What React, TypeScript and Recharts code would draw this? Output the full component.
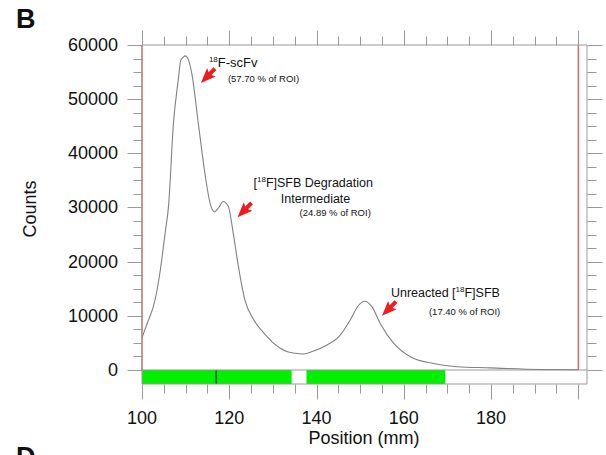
import React from 'react';
import {
  ComposedChart,
  Line,
  XAxis,
  YAxis,
  ReferenceLine,
  ReferenceArea,
  ReferenceDot,
} from 'recharts';

// radio-TLC scan, position in mm vs counts
const positions = [
  100, 101, 102, 102.6, 104.1, 105.3, 106.1, 107.2, 108.3, 108.9,
  109.4, 109.9, 110.4, 111.4, 112.9, 114.4, 115.6, 116.6, 117.6, 118.6,
  119.8, 120.9, 122.1, 123.6, 125.5, 127.4, 129, 130.2, 131.7, 133.2,
  135, 136.7, 139, 142.4, 145.5, 147.7, 149.7, 151, 152.7, 154.6,
  157.7, 161.5, 166.8, 172.2, 179.8, 191.3, 200,
];
const counts = [
  5900, 8200, 10300, 11700, 17900, 25300, 30400, 45500, 53500, 57200,
  57700, 58000, 57700, 54800, 45600, 36400, 30800, 29200, 30000, 31100,
  30200, 25300, 19100, 12900, 9400, 7300, 5900, 4900, 4000, 3400,
  3100, 2950, 3400, 4600, 6500, 9200, 12000, 12700, 11700, 8600,
  4900, 2450, 1200, 600, 400, 100, 50,
];

// regions of interest (green strip) and markers
const roiStarts = [100, 137.7];
const roiEnds = [134.3, 169.5];
const roiDivider = 117;
const originPos = 100;
const frontPos = 200;

const xTicks = [
  100, 105, 110, 115, 120, 125, 130, 135, 140, 145, 150, 155, 160, 165, 170,
  175, 180, 185, 190, 195, 200,
];
const yTicks = [
  0, 2500, 5000, 7500, 10000, 12500, 15000, 17500, 20000, 22500, 25000, 27500,
  30000, 32500, 35000, 37500, 40000, 42500, 45000, 47500, 50000, 52500, 55000,
  57500, 60000,
];

// peak labels: arrow tip position (mm, counts)
const peakNames = ['F-scFv', 'SFB Degradation', 'Unreacted'];
const peakTipPos = [113.5, 121.9, 155.0];
const peakTipCounts = [53000, 28200, 10000];
const peakPercents = ['(57.70 % of ROI)', '(24.89 % of ROI)', '(17.40 % of ROI)'];

const data = positions.map((p, i) => ({ pos: p, counts: counts[i] }));

const YMIN = -2585;
const GRAY = '#999999';
const FONT = '"Liberation Sans", Arial, sans-serif';

const Arrow = ({ x, y }: { x: number; y: number }) => {
  const dx = 0.7;
  const dy = -0.714;
  const px = -dy;
  const py = dx;
  const pt = (a: number, w: number) => `${x + dx * a + px * w},${y + dy * a + py * w}`;
  const pts = [pt(0, 0), pt(15, 6), pt(13, 2), pt(20, 2), pt(20, -2), pt(13, -2), pt(15, -6)];
  return <polygon points={pts.join(' ')} fill="#ee1c1c" />;
};

const Sup = ({ children }: { children: string }) => (
  <tspan fontSize={8} dy={-5}>
    {children}
  </tspan>
);

const renderLabel = (i: number) => (props: any) => {
  const { cx, cy } = props;
  const t = { fontFamily: FONT, fill: '#111' };
  if (i === 0) {
    return (
      <g>
        <Arrow x={cx} y={cy} />
        <text x={cx + 8} y={cy - 16} fontSize={13} {...t}>
          <Sup>18</Sup>
          <tspan dy={5}>F-scFv</tspan>
        </text>
        <text x={cx + 27} y={cy - 1} fontSize={9.5} {...t}>
          {peakPercents[0]}
        </text>
      </g>
    );
  }
  if (i === 1) {
    return (
      <g>
        <Arrow x={cx} y={cy} />
        <text x={cx + 16} y={cy - 30} fontSize={12.5} {...t}>
          [<Sup>18</Sup>
          <tspan dy={5}>F]SFB Degradation</tspan>
        </text>
        <text x={cx + 78} y={cy - 14} fontSize={12.5} textAnchor="middle" {...t}>
          Intermediate
        </text>
        <text x={cx + 62} y={cy - 1} fontSize={9.5} {...t}>
          {peakPercents[1]}
        </text>
      </g>
    );
  }
  return (
    <g>
      <Arrow x={cx} y={cy} />
      <text x={cx + 9} y={cy - 19} fontSize={12.5} {...t}>
        Unreacted [<Sup>18</Sup>
        <tspan dy={5}>F]SFB</tspan>
      </text>
      <text x={cx + 47} y={cy - 1} fontSize={9.5} {...t}>
        {peakPercents[2]}
      </text>
    </g>
  );
};

const tickPath = (x1: number, y1: number, x2: number, y2: number) => {
  const a = Math.round(x1) + 0.5;
  const b = Math.round(y1) + 0.5;
  const c = Math.round(x2) + 0.5;
  const d = Math.round(y2) + 0.5;
  return <path d={`M${a},${b}L${c},${d}`} stroke={GRAY} strokeWidth={1} fill="none" />;
};

const BottomTick = (props: any) => {
  const { x, y, payload } = props;
  const major = payload.value % 20 === 0;
  return (
    <g>
      {tickPath(x, y, x, y + (major ? 15 : 9))}
      {major && payload.value < 200 && (
        <text x={x} y={y + 40} textAnchor="middle" fontSize={18} fontFamily={FONT} fill="#111">
          {payload.value}
        </text>
      )}
    </g>
  );
};

const TopTick = (props: any) => {
  const { x, y, payload } = props;
  const major = payload.value % 20 === 0;
  return <g>{tickPath(x, y, x, y - (major ? 15 : 9))}</g>;
};

const LeftTick = (props: any) => {
  const { x, y, payload } = props;
  const major = payload.value % 10000 === 0;
  return (
    <g>
      {tickPath(x - (major ? 15 : 9), y, x, y)}
      {major && (
        <text x={x - 24} y={y + 6} textAnchor="end" fontSize={18} fontFamily={FONT} fill="#111">
          {payload.value}
        </text>
      )}
    </g>
  );
};

const RightTick = (props: any) => {
  const { x, y, payload } = props;
  const major = payload.value % 10000 === 0;
  return <g>{tickPath(x, y, x + (major ? 15 : 9), y)}</g>;
};

export default function App() {
  return (
    <div style={{ position: 'absolute', left: 0, top: 0, background: '#fff' }}>
      <ComposedChart
        width={606}
        height={455}
        data={data}
        margin={{ top: 25, right: 0, bottom: 0, left: 0 }}
      >
        <XAxis
          xAxisId="bottom"
          dataKey="pos"
          type="number"
          domain={[100, 202]}
          ticks={xTicks}
          interval={0}
          height={71}
          tickSize={0}
          tickMargin={0}
          tick={<BottomTick />}
          axisLine={{ stroke: GRAY }}
        />
        <XAxis
          xAxisId="top"
          dataKey="pos"
          orientation="top"
          type="number"
          domain={[100, 202]}
          ticks={xTicks}
          interval={0}
          height={20}
          tickSize={0}
          tickMargin={0}
          tick={<TopTick />}
          axisLine={{ stroke: GRAY }}
        />
        <YAxis
          yAxisId="left"
          type="number"
          domain={[YMIN, 60000]}
          ticks={yTicks}
          interval={0}
          width={142}
          tickSize={0}
          tickMargin={0}
          tick={<LeftTick />}
          axisLine={{ stroke: GRAY }}
        />
        <YAxis
          yAxisId="right"
          orientation="right"
          type="number"
          domain={[YMIN, 60000]}
          ticks={yTicks}
          interval={0}
          width={19}
          tickSize={0}
          tickMargin={0}
          tick={<RightTick />}
          axisLine={{ stroke: GRAY }}
        />
        {roiStarts.map((s, i) => (
          <ReferenceArea
            key={`roi-${i}`}
            xAxisId="bottom"
            yAxisId="left"
            x1={s}
            x2={roiEnds[i]}
            y1={YMIN}
            y2={0}
            fill="#00f000"
            fillOpacity={1}
            stroke="none"
          />
        ))}
        <ReferenceLine
          xAxisId="bottom"
          yAxisId="left"
          segment={[
            { x: roiDivider, y: YMIN },
            { x: roiDivider, y: 0 },
          ]}
          stroke="#111"
        />
        <ReferenceLine xAxisId="bottom" yAxisId="left" y={0} stroke={GRAY} />
        {[originPos, frontPos].map((p) => (
          <ReferenceLine
            key={`red-${p}`}
            xAxisId="bottom"
            yAxisId="left"
            segment={[
              { x: p, y: 0 },
              { x: p, y: 60000 },
            ]}
            stroke="#e84848"
            strokeWidth={1.2}
          />
        ))}
        {/* invisible twin so the top and right frame axes get drawn */}
        <Line
          xAxisId="top"
          yAxisId="right"
          dataKey="counts"
          stroke="none"
          dot={false}
          activeDot={false}
          legendType="none"
          isAnimationActive={false}
        />
        <Line
          xAxisId="bottom"
          yAxisId="left"
          dataKey="counts"
          type="monotone"
          stroke="#808080"
          strokeWidth={1.1}
          dot={false}
          isAnimationActive={false}
        />
        {peakNames.map((n, i) => (
          <ReferenceDot
            key={n}
            xAxisId="bottom"
            yAxisId="left"
            x={peakTipPos[i]}
            y={peakTipCounts[i]}
            r={0}
            shape={renderLabel(i)}
          />
        ))}
        <text x={16} y={28} fontSize={27} fontWeight="bold" fontFamily={FONT} fill="#111">
          B
        </text>
        <text x={16} y={466} fontSize={27} fontWeight="bold" fontFamily={FONT} fill="#111">
          D
        </text>
        <text
          x={36}
          y={209}
          transform="rotate(-90 36 209)"
          textAnchor="middle"
          fontSize={18}
          fontFamily={FONT}
          fill="#111"
        >
          Counts
        </text>
        <text x={364} y={444} textAnchor="middle" fontSize={18} fontFamily={FONT} fill="#111">
          Position (mm)
        </text>
      </ComposedChart>
    </div>
  );
}
